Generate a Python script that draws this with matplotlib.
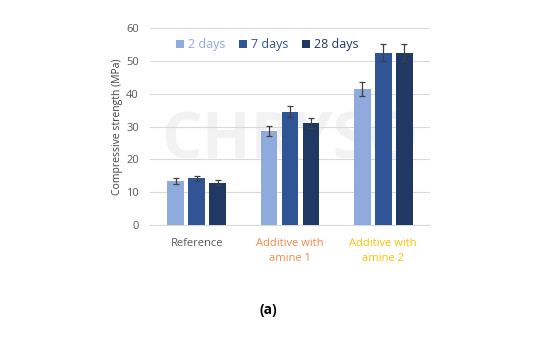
import matplotlib
matplotlib.use("Agg")
import matplotlib.pyplot as plt
import numpy as np

categories = ["Reference", "Additive with\namine 1", "Additive with\namine 2"]
series = ["2 days", "7 days", "28 days"]
vals_2d = [13.4, 28.6, 41.5]
vals_7d = [14.2, 34.5, 52.5]
vals_28d = [12.9, 31.1, 52.4]
err_2d = [0.8, 1.5, 2.2]
err_7d = [0.8, 1.7, 2.7]
err_28d = [0.7, 1.6, 2.6]
yticks = [0, 10, 20, 30, 40, 50, 60]

colors = ["#8FAADC", "#2F5597", "#203864"]
cat_colors = ["#595959", "#F4894A", "#FFC000"]

plt.rcParams['font.family'] = ['Open Sans', 'DejaVu Sans']

fig = plt.figure(figsize=(5.4, 3.5), dpi=100)
ax = fig.add_axes([0.278, 0.357, 0.518, 0.563])

x = np.arange(len(categories))
w = 0.18
offs = [-0.225, 0, 0.225]
for vals, errs, c, o, lab in zip([vals_2d, vals_7d, vals_28d], [err_2d, err_7d, err_28d], colors, offs, series):
    ax.bar(x + o, vals, w, color=c, label=lab, zorder=3,
           yerr=errs, error_kw=dict(ecolor="#404040", elinewidth=0.9, capsize=2.5, capthick=0.9, zorder=4))

ax.set_xlim(-0.5, 2.5)
ax.set_ylim(0, 60)
ax.set_yticks(yticks)
ax.set_yticklabels([str(t) for t in yticks], fontsize=8, color="#595959")
ax.set_xticks(x)
ax.set_xticklabels(categories, fontsize=8, linespacing=1.5)
for t, c in zip(ax.get_xticklabels(), cat_colors):
    t.set_color(c)
ax.tick_params(axis='y', length=0, pad=8)
ax.tick_params(axis='x', length=0, pad=9)
ax.grid(axis='y', color="#D9D9D9", linewidth=0.8, zorder=0)
for s in ["top", "right", "left"]:
    ax.spines[s].set_visible(False)
ax.spines["bottom"].set_color("#D9D9D9")
ax.set_ylabel("Compressive strength (MPa)", fontsize=7.5, color="#404040", labelpad=2)

leg = ax.legend(loc="upper center", bbox_to_anchor=(0.42, 1.005), ncol=3, frameon=False,
                fontsize=9, handlelength=0.6, handleheight=0.6, handletextpad=0.35, columnspacing=1.1)
for t, c in zip(leg.get_texts(), colors):
    t.set_color(c)

ax.text(0.5, 0.42, "CHRYSO", transform=ax.transAxes, fontsize=46, color="#000000", alpha=0.05,
        ha="center", va="center", fontweight="bold", zorder=1)

fig.text(0.497, 0.114, "(a)", fontsize=10, fontweight="bold", ha="center", va="center", color="#000000")

fig.savefig("out.png", dpi=100)
